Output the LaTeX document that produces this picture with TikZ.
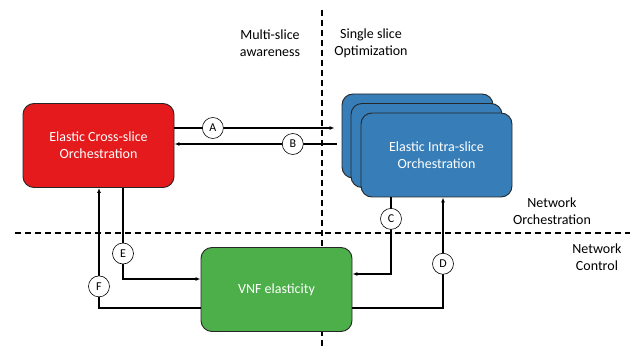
\documentclass[tikz,border=0pt]{standalone}
\usepackage{fontspec}
\setmainfont{Carlito}
\usetikzlibrary{arrows.meta}

\definecolor{crossred}{RGB}{228,26,28}
\definecolor{intrablue}{RGB}{55,126,184}
\definecolor{vnfgreen}{RGB}{77,175,74}

\begin{document}
\begin{tikzpicture}[x=1pt, y=-1pt,
  box/.style={rectangle, rounded corners=11pt, draw=black!85, line width=0.9pt,
    minimum width=151pt, minimum height=84pt, inner sep=0pt, align=center,
    text=white, font=\fontsize{14}{17}\selectfont},
  flow/.style={line width=1.3pt, -{Latex[length=5pt,width=4pt]}},
  tag/.style={circle, draw=black, fill=white, line width=0.6pt, inner sep=0pt,
    minimum size=21pt, font=\fontsize{12}{14}\selectfont},
  zone/.style={align=center, font=\fontsize{14}{17}\selectfont},
  split/.style={line width=1.2pt, dash pattern=on 6pt off 4pt}]

\useasboundingbox (0,0) rectangle (641,350);

%─────────────
% Domain borders
%─────────────
\draw[split] (322,10) -- (322,350);
\draw[split] (15,233) -- (630,233);

%─────────────
% Boxes
%─────────────
\node[box, fill=crossred] (cross) at (98.5,145.5) {Elastic Cross-slice\\Orchestration};

% stacked intra-slice orchestrators (back to front)
\node[box, fill=intrablue] (intra3) at (417.5,136) {};
\node[box, fill=intrablue] (intra2) at (426.5,145.5) {};
\node[box, fill=intrablue] (intra) at (436.5,155) {Elastic Intra-slice\\Orchestration};

\node[box, fill=vnfgreen] (vnf) at (276.5,289.5) {VNF elasticity};

%─────────────
% Interfaces A--F
%─────────────
\draw[flow, shorten >=7pt] (cross.east |- 0,128) -- node[tag, pos=.23] {A} (intra3.west |- 0,128);
\draw[flow] (intra3.west |- 0,144) ++(-5,0) coordinate (bS)
  -- node[tag, pos=.27] {B} (cross.east |- bS);
\draw[flow] (391,0 |- intra.south) |- node[tag, pos=.14] {C} ([yshift=15.5pt]vnf.east);
\draw[flow] ([yshift=-18.5pt]vnf.east) -| node[tag, pos=.70] {D} (443,0 |- intra.south);
\draw[flow] (123,0 |- cross.south) |- node[tag, pos=.36] {E} ([yshift=10.5pt]vnf.west);
\draw[flow] ([yshift=-18.5pt]vnf.west) -| node[tag, pos=.59] {F} (99,0 |- cross.south);

%─────────────
% Labels
%─────────────
\node[zone] (multi) at (270,43.5) {Multi-slice\\awareness};
\node[zone] (single) at (371,43.5) {Single slice\\Optimization};
\node[zone] (orch) at (552,211.5) {Network\\Orchestration};
\node[zone] (ctrl) at (597,257.5) {Network\\Control};

\end{tikzpicture}
\end{document}
